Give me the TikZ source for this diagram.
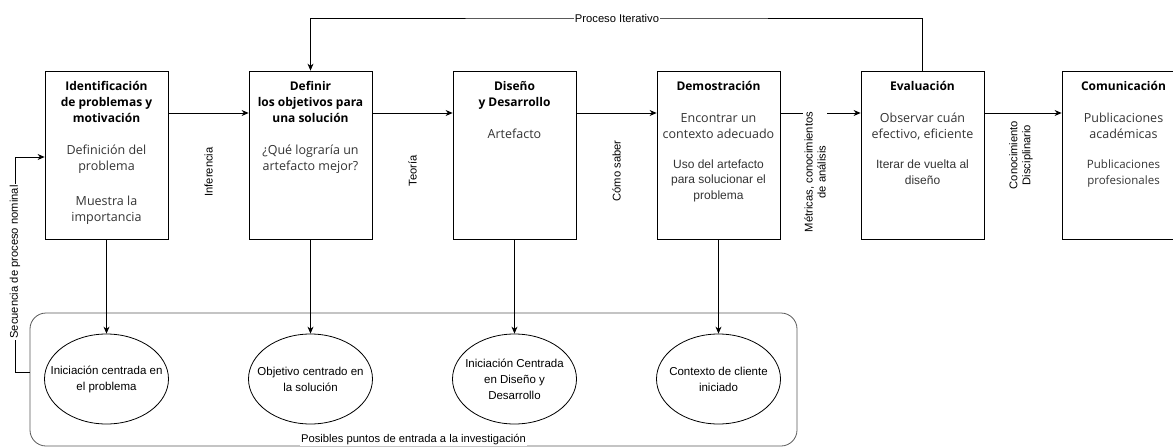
\documentclass[tikz,border=0pt]{standalone}
\usepackage{fontspec}
\setmainfont{Open Sans}
\newfontfamily\arialfont{Liberation Sans}
\usetikzlibrary{arrows.meta,shapes.geometric}

\tikzset{
  stage/.style={draw, line width=0.8pt, inner sep=0pt, font=\fontsize{12}{16}\selectfont},
  entry/.style={draw, line width=0.8pt, ellipse, minimum width=124pt, minimum height=90pt, inner sep=0pt},
  entrytext/.style={align=center, font=\arialfont\fontsize{11.5}{16}\selectfont},
  elabel/.style={fill=white, inner sep=1pt, align=center, font=\arialfont\fontsize{11.2}{13}\selectfont},
  arr/.style={-{Stealth[length=7pt,width=6pt]}, line width=0.8pt},
}

% text of a stage, top aligned
\newcommand{\stagetext}[2]{\parbox[c][168pt][t]{123pt}{\centering\vspace*{10pt}\textbf{#1}\\[16pt]\color{black!80}\fontsize{12.5}{16}\selectfont #2}}

\begin{document}
\begin{tikzpicture}[x=1pt, y=-1pt]
  \useasboundingbox (0,0) rectangle (1173,447);

  % stages
  \node[stage] (b1) at (106.5,155) {\stagetext{Identificación\\de problemas y\\motivación}{Definición del\\problema\\[19pt]Muestra la\\importancia}};
  \node[stage] (b2) at (310.5,155) {\stagetext{Definir\\los objetivos para\\una solución}{¿Qué lograría un\\artefacto mejor?}};
  \node[stage] (b3) at (514.5,155) {\stagetext{Diseño\\y Desarrollo}{Artefacto}};
  \node[stage] (b4) at (718.5,155) {\stagetext{Demostración}{Encontrar un\\contexto adecuado\\[15pt]{\arialfont\fontsize{12}{15}\selectfont Uso del artefacto\\para solucionar el\\problema}}};
  \node[stage] (b5) at (922.5,155) {\stagetext{Evaluación}{Observar cuán\\efectivo, eficiente\\[16pt]{\arialfont\fontsize{12}{14}\selectfont Iterar de vuelta al\\diseño}}};
  \node[stage] (b6) at (1123.5,155) {\stagetext{Comunicación}{Publicaciones\\académicas\\[16pt]{\fontsize{11.5}{14}\selectfont Publicaciones\\profesionales}}};

  % entry points
  \node[draw, line width=0.8pt, gray!70!black, rounded corners=16pt, minimum width=767pt, minimum height=133pt] (pe) at (413.5,379.5) {};
  \node[entry, label={[entrytext]center:Iniciación centrada en\\el problema}] (e1) at (106.5,379) {};
  \node[entry, label={[entrytext]center:Objetivo centrado en\\la solución}] (e2) at (310.5,379) {};
  \node[entry, label={[entrytext]center:Iniciación Centrada\\en Diseño y\\Desarrollo}] (e3) at (514.5,379) {};
  \node[entry, label={[entrytext]center:Contexto de cliente\\iniciado}] (e4) at (718.5,379) {};
  \node[elabel] (pt) at (413.5,440) {Posibles puntos de entrada a la investigación};

  % main sequence
  \coordinate (h) at (0,113);
  \draw[arr] (b1.east |- h) -- (b2.west |- h);
  \draw[arr] (b2.east |- h) -- (b3.west |- h);
  \draw[arr] (b3.east |- h) -- (b4.west |- h);
  \draw[arr] (b4.east |- h) -- (b5.west |- h);
  \draw[arr] (b5.east |- h) -- (b6.west |- h);
  \node[elabel, rotate=90] (l1) at (208.5,172) {Inferencia};
  \node[elabel, rotate=90] (l2) at (412.5,171) {Teoría};
  \node[elabel, rotate=90] (l3) at (616.5,171) {Cómo saber};
  \node[elabel, rotate=90] (l4) at (815,172) {Métricas, conocimientos\\de análisis};
  \node[elabel, rotate=90] (l5) at (1021,155) {Conocimiento\\Disciplinario};

  % iteration
  \coordinate (loop) at (617,18);
  \draw[arr] (b5.north) |- (loop) -| (b2.north);
  \node[elabel] (it) at (loop) {Proceso Iterativo};

  % entry arrows
  \foreach \i in {1,...,4}
    \draw[arr] (b\i.south) -- (e\i.north);

  % nominal sequence
  \coordinate (s1) at (15,372);
  \coordinate (s2) at (15,157);
  \draw[arr] (pe.west |- s1) -- (s1) -- (s2) -- (b1.west |- s2);
  \node[elabel, rotate=90] (sq) at (15,262) {Secuencia de proceso nominal};
\end{tikzpicture}
\end{document}
